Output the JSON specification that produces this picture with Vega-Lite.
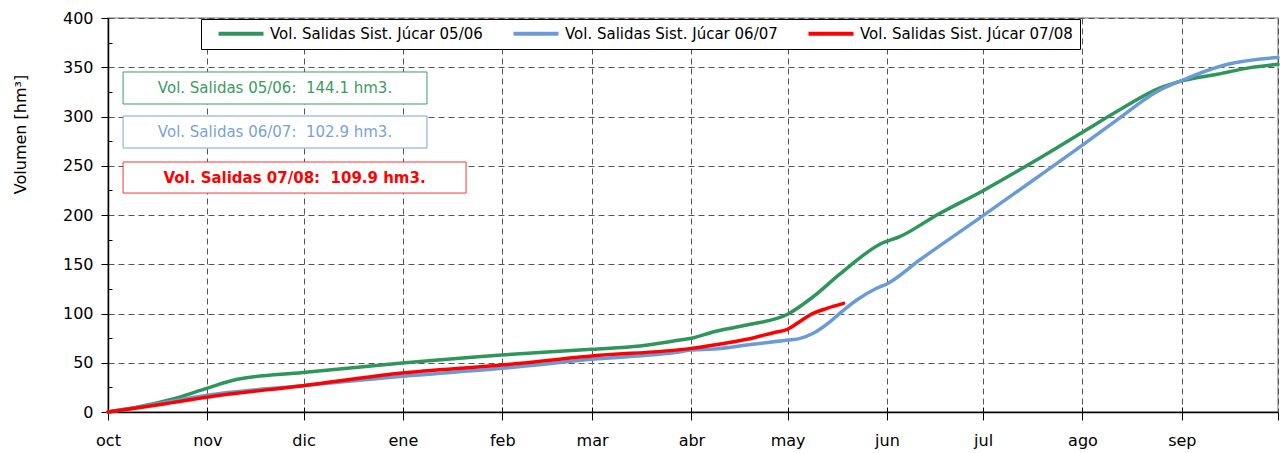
{
  "$schema": "https://vega.github.io/schema/vega-lite/v6.json",
  "width": 1170,
  "height": 394,
  "autosize": {"type": "none"},
  "padding": {"left": 108, "top": 18, "right": 2, "bottom": 41},
  "background": "white",
  "config": {
    "font": "DejaVu Sans",
    "view": {"stroke": "#a0a0a0", "strokeWidth": 1.5}
  },
  "datasets": {
    "series": [
      {"serie": "Vol. Salidas Sist. Júcar 05/06", "dia": 0, "vol": 0},
      {"serie": "Vol. Salidas Sist. Júcar 05/06", "dia": 10, "vol": 5.5},
      {"serie": "Vol. Salidas Sist. Júcar 05/06", "dia": 20, "vol": 13},
      {"serie": "Vol. Salidas Sist. Júcar 05/06", "dia": 30.8, "vol": 24},
      {"serie": "Vol. Salidas Sist. Júcar 05/06", "dia": 40, "vol": 33},
      {"serie": "Vol. Salidas Sist. Júcar 05/06", "dia": 60.8, "vol": 40},
      {"serie": "Vol. Salidas Sist. Júcar 05/06", "dia": 91, "vol": 49.5},
      {"serie": "Vol. Salidas Sist. Júcar 05/06", "dia": 122.8, "vol": 57.9},
      {"serie": "Vol. Salidas Sist. Júcar 05/06", "dia": 150.9, "vol": 63.6},
      {"serie": "Vol. Salidas Sist. Júcar 05/06", "dia": 166, "vol": 67},
      {"serie": "Vol. Salidas Sist. Júcar 05/06", "dia": 178.5, "vol": 73},
      {"serie": "Vol. Salidas Sist. Júcar 05/06", "dia": 182, "vol": 74.8},
      {"serie": "Vol. Salidas Sist. Júcar 05/06", "dia": 189, "vol": 81.5},
      {"serie": "Vol. Salidas Sist. Júcar 05/06", "dia": 199.3, "vol": 88.3},
      {"serie": "Vol. Salidas Sist. Júcar 05/06", "dia": 212, "vol": 99.2},
      {"serie": "Vol. Salidas Sist. Júcar 05/06", "dia": 220, "vol": 117},
      {"serie": "Vol. Salidas Sist. Júcar 05/06", "dia": 228.3, "vol": 140},
      {"serie": "Vol. Salidas Sist. Júcar 05/06", "dia": 241.4, "vol": 171.3},
      {"serie": "Vol. Salidas Sist. Júcar 05/06", "dia": 247, "vol": 178},
      {"serie": "Vol. Salidas Sist. Júcar 05/06", "dia": 258.6, "vol": 200},
      {"serie": "Vol. Salidas Sist. Júcar 05/06", "dia": 273, "vol": 224.7},
      {"serie": "Vol. Salidas Sist. Júcar 05/06", "dia": 288.7, "vol": 254},
      {"serie": "Vol. Salidas Sist. Júcar 05/06", "dia": 304, "vol": 284},
      {"serie": "Vol. Salidas Sist. Júcar 05/06", "dia": 314.7, "vol": 305},
      {"serie": "Vol. Salidas Sist. Júcar 05/06", "dia": 328.2, "vol": 329},
      {"serie": "Vol. Salidas Sist. Júcar 05/06", "dia": 335.3, "vol": 336.4},
      {"serie": "Vol. Salidas Sist. Júcar 05/06", "dia": 346, "vol": 342.8},
      {"serie": "Vol. Salidas Sist. Júcar 05/06", "dia": 356.3, "vol": 349.6},
      {"serie": "Vol. Salidas Sist. Júcar 05/06", "dia": 365, "vol": 353},
      {"serie": "Vol. Salidas Sist. Júcar 06/07", "dia": 0, "vol": 0},
      {"serie": "Vol. Salidas Sist. Júcar 06/07", "dia": 10, "vol": 5},
      {"serie": "Vol. Salidas Sist. Júcar 06/07", "dia": 20, "vol": 11},
      {"serie": "Vol. Salidas Sist. Júcar 06/07", "dia": 30.8, "vol": 17},
      {"serie": "Vol. Salidas Sist. Júcar 06/07", "dia": 60.8, "vol": 26.7},
      {"serie": "Vol. Salidas Sist. Júcar 06/07", "dia": 91, "vol": 36},
      {"serie": "Vol. Salidas Sist. Júcar 06/07", "dia": 122.8, "vol": 44.3},
      {"serie": "Vol. Salidas Sist. Júcar 06/07", "dia": 150.9, "vol": 53.5},
      {"serie": "Vol. Salidas Sist. Júcar 06/07", "dia": 178.5, "vol": 61.2},
      {"serie": "Vol. Salidas Sist. Júcar 06/07", "dia": 182, "vol": 63},
      {"serie": "Vol. Salidas Sist. Júcar 06/07", "dia": 189, "vol": 64},
      {"serie": "Vol. Salidas Sist. Júcar 06/07", "dia": 199.3, "vol": 68},
      {"serie": "Vol. Salidas Sist. Júcar 06/07", "dia": 212, "vol": 73},
      {"serie": "Vol. Salidas Sist. Júcar 06/07", "dia": 216, "vol": 74.8},
      {"serie": "Vol. Salidas Sist. Júcar 06/07", "dia": 220, "vol": 79.9},
      {"serie": "Vol. Salidas Sist. Júcar 06/07", "dia": 225.3, "vol": 91.7},
      {"serie": "Vol. Salidas Sist. Júcar 06/07", "dia": 228.3, "vol": 100.2},
      {"serie": "Vol. Salidas Sist. Júcar 06/07", "dia": 233.6, "vol": 113.7},
      {"serie": "Vol. Salidas Sist. Júcar 06/07", "dia": 239.8, "vol": 125.6},
      {"serie": "Vol. Salidas Sist. Júcar 06/07", "dia": 243, "vol": 130},
      {"serie": "Vol. Salidas Sist. Júcar 06/07", "dia": 253.2, "vol": 154.3},
      {"serie": "Vol. Salidas Sist. Júcar 06/07", "dia": 273, "vol": 199.3},
      {"serie": "Vol. Salidas Sist. Júcar 06/07", "dia": 288.7, "vol": 235.5},
      {"serie": "Vol. Salidas Sist. Júcar 06/07", "dia": 304, "vol": 271},
      {"serie": "Vol. Salidas Sist. Júcar 06/07", "dia": 314.7, "vol": 296.4},
      {"serie": "Vol. Salidas Sist. Júcar 06/07", "dia": 327.2, "vol": 325.2},
      {"serie": "Vol. Salidas Sist. Júcar 06/07", "dia": 335.3, "vol": 337},
      {"serie": "Vol. Salidas Sist. Júcar 06/07", "dia": 349.3, "vol": 353},
      {"serie": "Vol. Salidas Sist. Júcar 06/07", "dia": 365, "vol": 360},
      {"serie": "Vol. Salidas Sist. Júcar 07/08", "dia": 0, "vol": 0},
      {"serie": "Vol. Salidas Sist. Júcar 07/08", "dia": 10, "vol": 4.5},
      {"serie": "Vol. Salidas Sist. Júcar 07/08", "dia": 20, "vol": 9.5},
      {"serie": "Vol. Salidas Sist. Júcar 07/08", "dia": 30.8, "vol": 15},
      {"serie": "Vol. Salidas Sist. Júcar 07/08", "dia": 60.8, "vol": 26.7},
      {"serie": "Vol. Salidas Sist. Júcar 07/08", "dia": 91, "vol": 39.3},
      {"serie": "Vol. Salidas Sist. Júcar 07/08", "dia": 122.8, "vol": 47.7},
      {"serie": "Vol. Salidas Sist. Júcar 07/08", "dia": 150.9, "vol": 56.9},
      {"serie": "Vol. Salidas Sist. Júcar 07/08", "dia": 182, "vol": 64.6},
      {"serie": "Vol. Salidas Sist. Júcar 07/08", "dia": 189, "vol": 68},
      {"serie": "Vol. Salidas Sist. Júcar 07/08", "dia": 199.3, "vol": 73.8},
      {"serie": "Vol. Salidas Sist. Júcar 07/08", "dia": 207.6, "vol": 80.5},
      {"serie": "Vol. Salidas Sist. Júcar 07/08", "dia": 212, "vol": 84},
      {"serie": "Vol. Salidas Sist. Júcar 07/08", "dia": 215, "vol": 90},
      {"serie": "Vol. Salidas Sist. Júcar 07/08", "dia": 219, "vol": 98.5},
      {"serie": "Vol. Salidas Sist. Júcar 07/08", "dia": 224.3, "vol": 105.3},
      {"serie": "Vol. Salidas Sist. Júcar 07/08", "dia": 229.5, "vol": 110.3}
    ],
    "notas": [
      {"nota": "cuadros"}
    ]
  },
  "layer": [
    {
      "data": {"name": "series"},
      "mark": {"type": "line", "strokeWidth": 3.5, "strokeCap": "round", "interpolate": "monotone"},
      "encoding": {
        "x": {
          "field": "dia", "type": "quantitative",
          "scale": {"domain": [0, 365], "nice": false, "zero": false},
          "axis": {
            "values": [0, 31, 61, 92, 123, 151, 182, 212, 243, 273, 304, 335, 365],
            "labelExpr": "datum.value == 0 ? 'oct' : datum.value == 31 ? 'nov' : datum.value == 61 ? 'dic' : datum.value == 92 ? 'ene' : datum.value == 123 ? 'feb' : datum.value == 151 ? 'mar' : datum.value == 182 ? 'abr' : datum.value == 212 ? 'may' : datum.value == 243 ? 'jun' : datum.value == 273 ? 'jul' : datum.value == 304 ? 'ago' : datum.value == 335 ? 'sep' : ''",
            "title": null,
            "grid": true, "gridDash": [6, 4], "gridColor": "#555555", "gridWidth": 1,
            "domainColor": "black", "domainWidth": 1.5,
            "tickColor": "black", "tickSize": 8, "tickWidth": 1,
            "labelFontSize": 16, "labelPadding": 12, "labelColor": "black", "labelFlush": false
          }
        },
        "y": {
          "field": "vol", "type": "quantitative",
          "scale": {"domain": [0, 400], "nice": false},
          "axis": {
            "values": [0, 50, 100, 150, 200, 250, 300, 350, 400],
            "title": "Volumen [hm³]", "titleFontSize": 16, "titleFontWeight": "normal", "titleColor": "black",
            "titleX": -88, "titleY": 116, "titleAngle": 270, "titleAlign": "center", "titleBaseline": "middle",
            "grid": true, "gridDash": [6, 4], "gridColor": "#555555", "gridWidth": 1,
            "domainColor": "black", "domainWidth": 1.5,
            "tickColor": "black", "tickSize": 7, "tickWidth": 1,
            "labelFontSize": 16, "labelPadding": 8, "labelColor": "black"
          }
        },
        "color": {
          "field": "serie", "type": "nominal",
          "scale": {
            "domain": ["Vol. Salidas Sist. Júcar 05/06", "Vol. Salidas Sist. Júcar 06/07", "Vol. Salidas Sist. Júcar 07/08"],
            "range": ["#2e965a", "#6b9bd6", "#ff0000"]
          },
          "legend": {
            "title": null, "orient": "none", "legendX": 93, "legendY": 1,
            "direction": "horizontal", "fillColor": "white", "strokeColor": "black",
            "padding": 7, "symbolType": "M0.6,0H9.6", "symbolSize": 100, "symbolStrokeWidth": 4,
            "labelFontSize": 15, "labelColor": "black", "labelOffset": 47, "columnPadding": 20,
            "labelLimit": 400
          }
        }
      }
    },
    {
      "data": {"name": "notas"},
      "mark": {"type": "rect", "fill": "white", "stroke": "#3d9b62", "strokeWidth": 1},
      "encoding": {
        "x": {"datum": 4.7, "type": "quantitative",
          "axis": {"orient": "bottom", "values": [31, 61, 92, 123, 151, 182, 212, 243, 273, 304, 335], "labels": false, "domain": false, "grid": false, "tickSize": -5, "tickColor": "black", "title": null}},
        "x2": {"datum": 99.5},
        "y": {"datum": 345.2, "type": "quantitative",
          "axis": {"orient": "left", "values": [25, 75, 125, 175, 225, 275, 325, 375], "labels": false, "domain": false, "grid": false, "tickSize": -4, "tickColor": "black", "title": null}},
        "y2": {"datum": 312.7}
      }
    },
    {
      "data": {"name": "notas"},
      "mark": {"type": "rect", "fill": "white", "stroke": "#7aa2da", "strokeWidth": 1},
      "encoding": {
        "x": {"datum": 4.7, "type": "quantitative", "axis": null}, "x2": {"datum": 99.5},
        "y": {"datum": 300.5, "type": "quantitative", "axis": null}, "y2": {"datum": 268}
      }
    },
    {
      "data": {"name": "notas"},
      "mark": {"type": "rect", "fill": "white", "stroke": "#ff3333", "strokeWidth": 1},
      "encoding": {
        "x": {"datum": 4.7, "type": "quantitative", "axis": null}, "x2": {"datum": 111.7},
        "y": {"datum": 253.8, "type": "quantitative", "axis": null}, "y2": {"datum": 222.3}
      }
    },
    {
      "data": {"name": "notas"},
      "mark": {"type": "text", "fontSize": 15, "color": "#3d9b62", "align": "center", "baseline": "middle", "text": "Vol. Salidas 05/06:\u00a0 144.1 hm3."},
      "encoding": {
        "x": {"datum": 52.1, "type": "quantitative", "axis": null},
        "y": {"datum": 329, "type": "quantitative", "axis": null}
      }
    },
    {
      "data": {"name": "notas"},
      "mark": {"type": "text", "fontSize": 15, "color": "#7aa2da", "align": "center", "baseline": "middle", "text": "Vol. Salidas 06/07:\u00a0 102.9 hm3."},
      "encoding": {
        "x": {"datum": 52.1, "type": "quantitative", "axis": null},
        "y": {"datum": 284.3, "type": "quantitative", "axis": null}
      }
    },
    {
      "data": {"name": "notas"},
      "mark": {"type": "text", "fontSize": 15, "fontWeight": "bold", "color": "#ff0000", "align": "center", "baseline": "middle", "text": "Vol. Salidas 07/08:\u00a0 109.9 hm3."},
      "encoding": {
        "x": {"datum": 58.2, "type": "quantitative", "axis": null},
        "y": {"datum": 238, "type": "quantitative", "axis": null}
      }
    }
  ],
  "resolve": {"axis": {"x": "independent", "y": "independent"}}
}
